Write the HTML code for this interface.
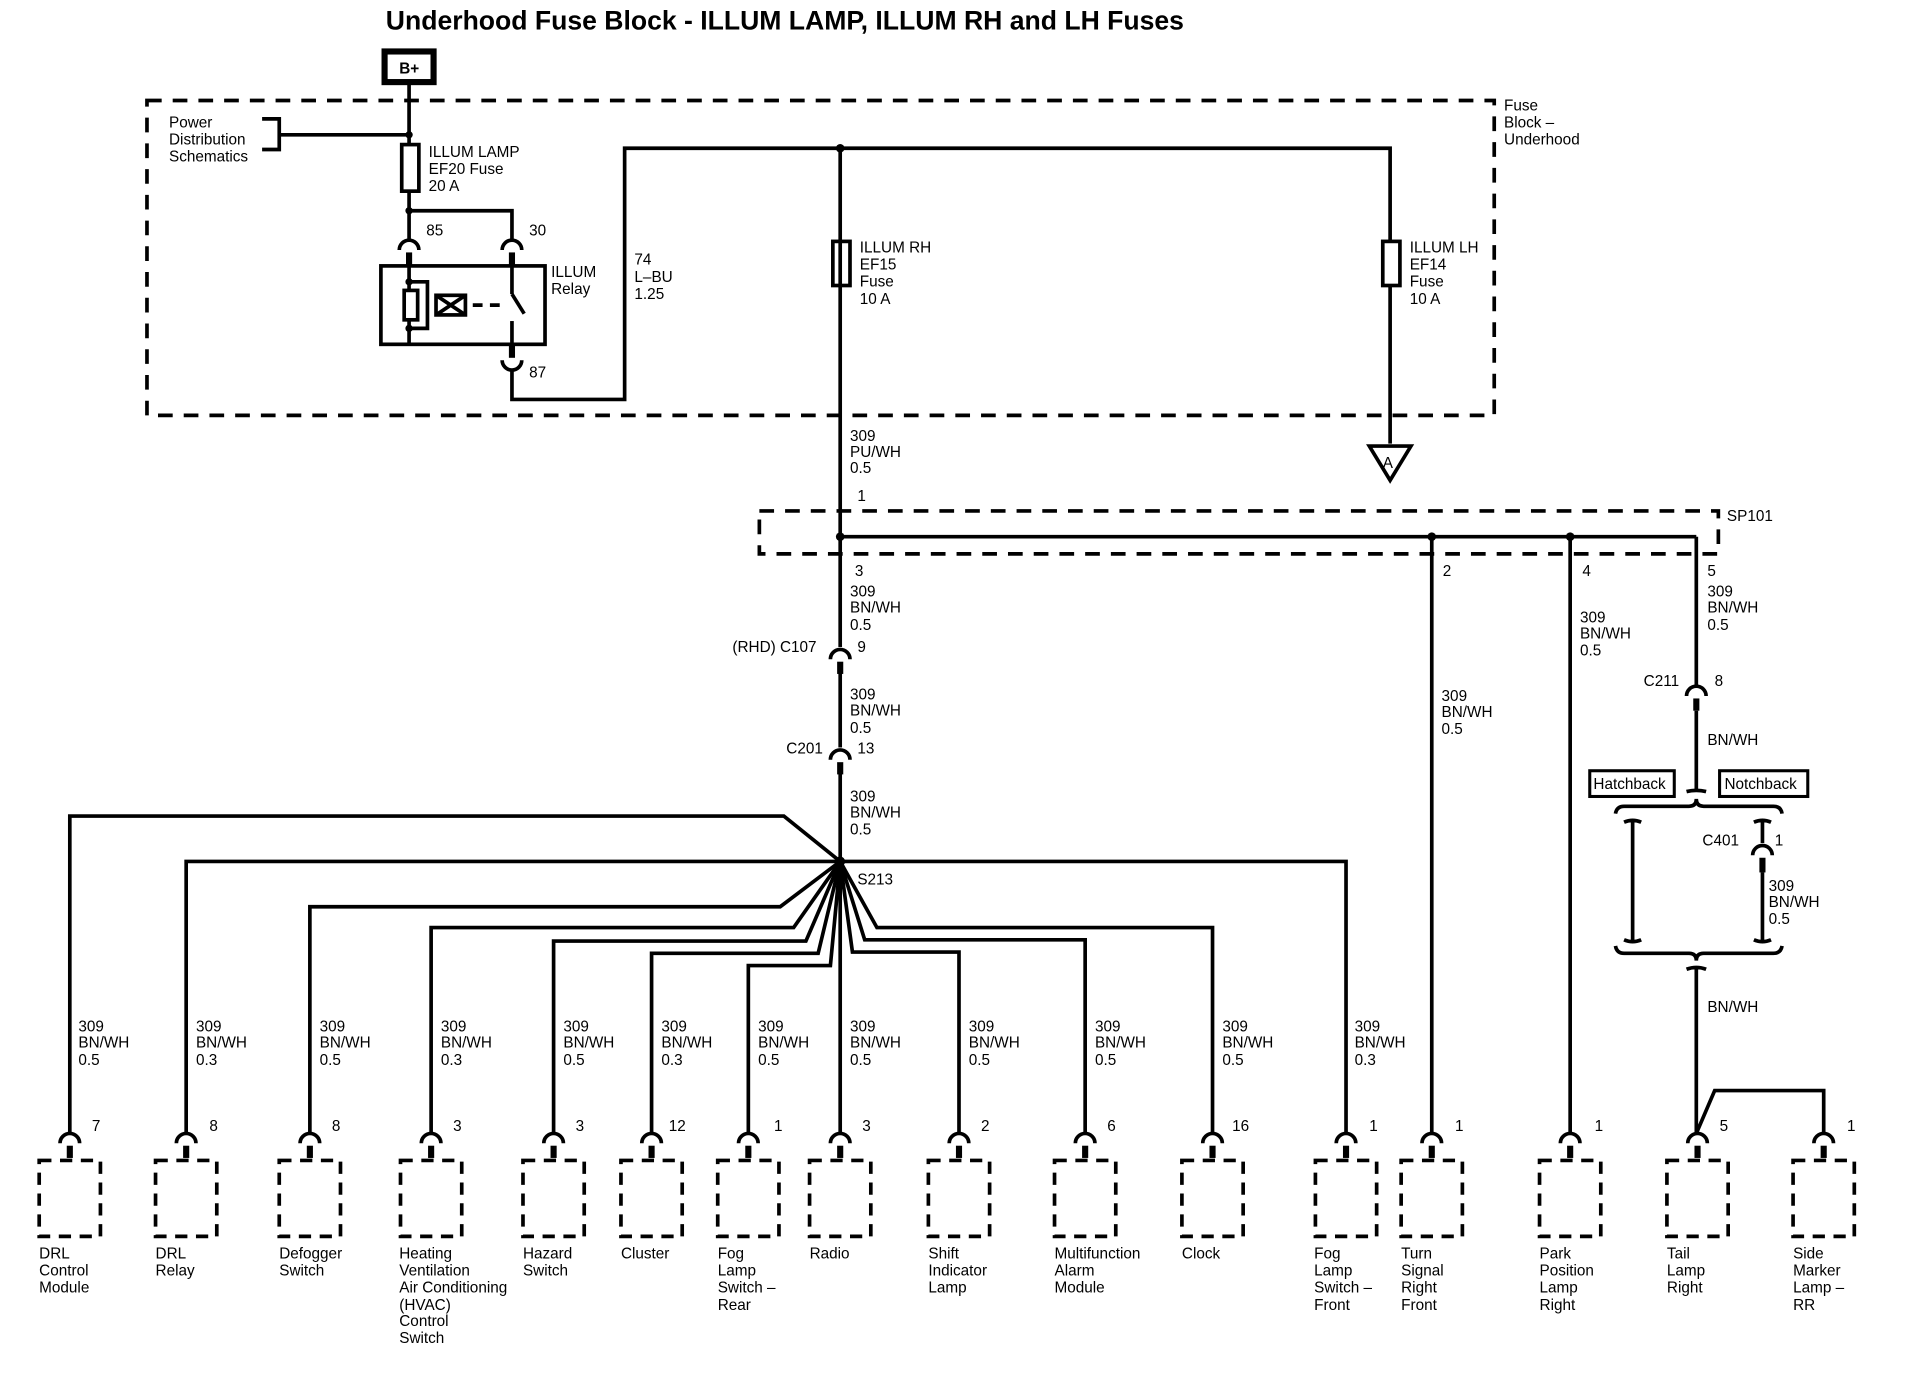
<!DOCTYPE html>
<html><head><meta charset="utf-8"><style>
html,body{margin:0;padding:0;background:#fff;}
svg{display:block}
text{font-family:"Liberation Sans Narrow","Liberation Sans",sans-serif;font-size:12.5px;fill:#000}
.t{font-weight:bold;font-size:21.7px;font-family:"Liberation Sans",sans-serif}
</style></head><body>
<svg width="1918" height="1392" viewBox="0 0 1566 1136" preserveAspectRatio="none" xmlns="http://www.w3.org/2000/svg">
<defs>
<g id="cn"><path d="M-8,8 A8,8 0 0 1 8,8" fill="none" stroke="#000" stroke-width="3"/><line x1="0" y1="10" x2="0" y2="20" stroke="#000" stroke-width="5"/></g>
<g id="cu"><path d="M-8,-8 A8,8 0 0 0 8,-8" fill="none" stroke="#000" stroke-width="3"/><line x1="0" y1="-10" x2="0" y2="-20" stroke="#000" stroke-width="5"/></g>
<rect id="db" x="-25" y="0" width="50" height="62" fill="none" stroke="#000" stroke-width="3" stroke-dasharray="10,7"/>
</defs>
<g stroke="#000" stroke-width="3" fill="none">
<text class="t" x="315" y="24" stroke="none">Underhood Fuse Block - ILLUM LAMP, ILLUM RH and LH Fuses</text>
<rect x="314" y="42" width="40" height="25" stroke-width="5"/>
<rect x="120" y="82" width="1100" height="257" stroke-dasharray="12,9"/>
<line x1="334" y1="68" x2="334" y2="118"/>
<line x1="334" y1="110" x2="228" y2="110"/>
<polyline points="214,97 228,97 228,122 214,122"/>
<rect x="328" y="118" width="14" height="38"/>
<line x1="334" y1="156" x2="334" y2="196"/>
<polyline points="334,172 418,172 418,196"/>
<use href="#cn" x="334" y="196"/><use href="#cn" x="418" y="196"/>
<rect x="311" y="217" width="134" height="64"/>
<line x1="334" y1="216" x2="334" y2="281"/>
<polyline points="334,230 349,230 349,268 334,268"/>
<rect x="330" y="237" width="11" height="24" fill="#fff"/>
<rect x="356" y="241" width="24" height="16" fill="#fff"/>
<path d="M356,241 L380,257 M380,241 L356,257"/>
<line x1="386" y1="249" x2="412" y2="249" stroke-dasharray="8,6"/>
<line x1="418" y1="216" x2="418" y2="240"/><line x1="418" y1="240" x2="428" y2="256"/><line x1="418" y1="262" x2="418" y2="281"/>
<use href="#cu" x="418" y="302"/>
<polyline points="418,302 418,326 510,326 510,121 1135,121 1135,362"/>
<path d="M1118,364 L1152,364 L1135,392 Z" fill="#fff"/>
<rect x="680" y="197" width="14" height="36" fill="#fff"/>
<rect x="1129" y="197" width="14" height="36" fill="#fff"/>
<line x1="686" y1="121" x2="686" y2="703"/>
<rect x="620" y="417" width="783" height="35" stroke-dasharray="12,9"/>
<line x1="686" y1="438" x2="1385" y2="438"/>
<line x1="1169" y1="438" x2="1169" y2="925"/>
<line x1="1282" y1="438" x2="1282" y2="925"/>
<line x1="1385" y1="438" x2="1385" y2="560"/>
<rect x="676" y="528" width="20" height="20" fill="#fff" stroke="none"/>
<use href="#cn" x="686" y="530"/>
<rect x="676" y="610" width="20" height="20" fill="#fff" stroke="none"/>
<use href="#cn" x="686" y="612"/>
<use href="#cn" x="1385" y="560"/>
<line x1="1385" y1="580" x2="1385" y2="646"/>
<path d="M1377,646 Q1385,644 1393,646"/>
<path d="M1319,664 Q1320,658 1326,658 L1379,658 Q1385,658 1385,652 Q1385,658 1391,658 L1448,658 Q1454,658 1455,664"/>
<path d="M1326,671 Q1333,668 1340,671 M1333,670 L1333,768 M1326,767 Q1333,770 1340,767"/>
<path d="M1432,671 Q1439,668 1446,671 M1439,670 L1439,688"/>
<path d="M1431,698 A8,8 0 0 1 1447,698"/>
<line x1="1439" y1="700" x2="1439" y2="712" stroke-width="5"/>
<path d="M1439,712 L1439,768 M1432,767 Q1439,770 1446,767"/>
<path d="M1319,772 Q1320,778 1326,778 L1379,778 Q1385,778 1385,784 Q1385,778 1391,778 L1448,778 Q1454,778 1455,772"/>
<path d="M1377,791 Q1385,788 1393,791 M1385,790 L1385,925 M1385,925 L1400,890 L1489,890 L1489,925"/>
<rect x="1298" y="629" width="69" height="21" fill="#fff" stroke-width="2.5"/>
<rect x="1404" y="629" width="72" height="21" fill="#fff" stroke-width="2.5"/>
<polyline points="57,925 57,666 640,666 686,703"/>
<polyline points="152,925 152,703 1099,703 1099,925"/>
<polyline points="253,925 253,740 637,740 686,703"/>
<polyline points="352,925 352,757 648,757 686,703"/>
<polyline points="452,925 452,768 658,768 686,703"/>
<polyline points="532,925 532,778 668,778 686,703"/>
<polyline points="611,925 611,788 678,788 686,703"/>
<line x1="686" y1="703" x2="686" y2="925"/>
<polyline points="783,925 783,777 696,777 686,703"/>
<polyline points="886,925 886,767 706,767 686,703"/>
<polyline points="990,925 990,757 716,757 686,703"/>
</g>
<g fill="#000">
<circle cx="334" cy="110" r="3"/><circle cx="334" cy="172" r="3"/><circle cx="334" cy="230" r="3"/><circle cx="334" cy="268" r="3"/>
<circle cx="686" cy="121" r="3.5"/><circle cx="686" cy="438" r="3.5"/><circle cx="1169" cy="438" r="3.5"/><circle cx="1282" cy="438" r="3.5"/><circle cx="686" cy="703" r="4"/>
</g>
<g>
<use href="#cn" x="57" y="925"/><use href="#cn" x="152" y="925"/><use href="#cn" x="253" y="925"/><use href="#cn" x="352" y="925"/><use href="#cn" x="452" y="925"/><use href="#cn" x="532" y="925"/><use href="#cn" x="611" y="925"/><use href="#cn" x="686" y="925"/><use href="#cn" x="783" y="925"/><use href="#cn" x="886" y="925"/><use href="#cn" x="990" y="925"/><use href="#cn" x="1099" y="925"/><use href="#cn" x="1169" y="925"/><use href="#cn" x="1282" y="925"/><use href="#cn" x="1386" y="925"/><use href="#cn" x="1489" y="925"/>
<use href="#db" x="57" y="947"/><use href="#db" x="152" y="947"/><use href="#db" x="253" y="947"/><use href="#db" x="352" y="947"/><use href="#db" x="452" y="947"/><use href="#db" x="532" y="947"/><use href="#db" x="611" y="947"/><use href="#db" x="686" y="947"/><use href="#db" x="783" y="947"/><use href="#db" x="886" y="947"/><use href="#db" x="990" y="947"/><use href="#db" x="1099" y="947"/><use href="#db" x="1169" y="947"/><use href="#db" x="1282" y="947"/><use href="#db" x="1386" y="947"/><use href="#db" x="1489" y="947"/>
</g>
<g>
<text x="326" y="60" font-weight="bold">B+</text>
<text x="138" y="104">Power</text><text x="138" y="118">Distribution</text><text x="138" y="132">Schematics</text>
<text x="350" y="128">ILLUM LAMP</text><text x="350" y="142">EF20 Fuse</text><text x="350" y="156">20 A</text>
<text x="348" y="192">85</text><text x="432" y="192">30</text><text x="432" y="308">87</text>
<text x="450" y="226">ILLUM</text><text x="450" y="240">Relay</text>
<text x="518" y="216">74</text><text x="518" y="230">L–BU</text><text x="518" y="244">1.25</text>
<text x="702" y="206">ILLUM RH</text><text x="702" y="220">EF15</text><text x="702" y="234">Fuse</text><text x="702" y="248">10 A</text>
<text x="1151" y="206">ILLUM LH</text><text x="1151" y="220">EF14</text><text x="1151" y="234">Fuse</text><text x="1151" y="248">10 A</text>
<text x="1228" y="90">Fuse</text><text x="1228" y="104">Block –</text><text x="1228" y="118">Underhood</text>
<text x="1129" y="382">A</text>
<text x="694" y="360">309</text><text x="694" y="373">PU/WH</text><text x="694" y="386">0.5</text>
<text x="700" y="409">1</text><text x="1410" y="425">SP101</text>
<text x="698" y="470">3</text><text x="1178" y="470">2</text><text x="1292" y="470">4</text><text x="1394" y="470">5</text>
<text x="694" y="487">309</text><text x="694" y="500">BN/WH</text><text x="694" y="514">0.5</text>
<text x="598" y="532">(RHD) C107</text><text x="700" y="532">9</text>
<text x="694" y="571">309</text><text x="694" y="584">BN/WH</text><text x="694" y="598">0.5</text>
<text x="642" y="615">C201</text><text x="700" y="615">13</text>
<text x="694" y="654">309</text><text x="694" y="667">BN/WH</text><text x="694" y="681">0.5</text>
<text x="700" y="722">S213</text>
<text x="1290" y="508">309</text><text x="1290" y="521">BN/WH</text><text x="1290" y="535">0.5</text>
<text x="1177" y="572">309</text><text x="1177" y="585">BN/WH</text><text x="1177" y="599">0.5</text>
<text x="1394" y="487">309</text><text x="1394" y="500">BN/WH</text><text x="1394" y="514">0.5</text>
<text x="1342" y="560">C211</text><text x="1400" y="560">8</text>
<text x="1394" y="608">BN/WH</text>
<text x="1301" y="644">Hatchback</text><text x="1408" y="644">Notchback</text>
<text x="1390" y="690">C401</text><text x="1449" y="690">1</text>
<text x="1444" y="727">309</text><text x="1444" y="740">BN/WH</text><text x="1444" y="754">0.5</text>
<text x="1394" y="826">BN/WH</text>
<text x="64" y="842">309</text><text x="64" y="855">BN/WH</text><text x="64" y="869">0.5</text>
<text x="160" y="842">309</text><text x="160" y="855">BN/WH</text><text x="160" y="869">0.3</text>
<text x="261" y="842">309</text><text x="261" y="855">BN/WH</text><text x="261" y="869">0.5</text>
<text x="360" y="842">309</text><text x="360" y="855">BN/WH</text><text x="360" y="869">0.3</text>
<text x="460" y="842">309</text><text x="460" y="855">BN/WH</text><text x="460" y="869">0.5</text>
<text x="540" y="842">309</text><text x="540" y="855">BN/WH</text><text x="540" y="869">0.3</text>
<text x="619" y="842">309</text><text x="619" y="855">BN/WH</text><text x="619" y="869">0.5</text>
<text x="694" y="842">309</text><text x="694" y="855">BN/WH</text><text x="694" y="869">0.5</text>
<text x="791" y="842">309</text><text x="791" y="855">BN/WH</text><text x="791" y="869">0.5</text>
<text x="894" y="842">309</text><text x="894" y="855">BN/WH</text><text x="894" y="869">0.5</text>
<text x="998" y="842">309</text><text x="998" y="855">BN/WH</text><text x="998" y="869">0.5</text>
<text x="1106" y="842">309</text><text x="1106" y="855">BN/WH</text><text x="1106" y="869">0.3</text>
<text x="75" y="923">7</text><text x="171" y="923">8</text><text x="271" y="923">8</text><text x="370" y="923">3</text><text x="470" y="923">3</text><text x="546" y="923">12</text><text x="632" y="923">1</text><text x="704" y="923">3</text><text x="801" y="923">2</text><text x="904" y="923">6</text><text x="1006" y="923">16</text><text x="1118" y="923">1</text><text x="1188" y="923">1</text><text x="1302" y="923">1</text><text x="1404" y="923">5</text><text x="1508" y="923">1</text>
<text x="32" y="1027">DRL</text><text x="32" y="1041">Control</text><text x="32" y="1055">Module</text>
<text x="127" y="1027">DRL</text><text x="127" y="1041">Relay</text>
<text x="228" y="1027">Defogger</text><text x="228" y="1041">Switch</text>
<text x="326" y="1027">Heating</text><text x="326" y="1041">Ventilation</text><text x="326" y="1055">Air Conditioning</text><text x="326" y="1069">(HVAC)</text><text x="326" y="1082">Control</text><text x="326" y="1096">Switch</text>
<text x="427" y="1027">Hazard</text><text x="427" y="1041">Switch</text>
<text x="507" y="1027">Cluster</text>
<text x="586" y="1027">Fog</text><text x="586" y="1041">Lamp</text><text x="586" y="1055">Switch –</text><text x="586" y="1069">Rear</text>
<text x="661" y="1027">Radio</text>
<text x="758" y="1027">Shift</text><text x="758" y="1041">Indicator</text><text x="758" y="1055">Lamp</text>
<text x="861" y="1027">Multifunction</text><text x="861" y="1041">Alarm</text><text x="861" y="1055">Module</text>
<text x="965" y="1027">Clock</text>
<text x="1073" y="1027">Fog</text><text x="1073" y="1041">Lamp</text><text x="1073" y="1055">Switch –</text><text x="1073" y="1069">Front</text>
<text x="1144" y="1027">Turn</text><text x="1144" y="1041">Signal</text><text x="1144" y="1055">Right</text><text x="1144" y="1069">Front</text>
<text x="1257" y="1027">Park</text><text x="1257" y="1041">Position</text><text x="1257" y="1055">Lamp</text><text x="1257" y="1069">Right</text>
<text x="1361" y="1027">Tail</text><text x="1361" y="1041">Lamp</text><text x="1361" y="1055">Right</text>
<text x="1464" y="1027">Side</text><text x="1464" y="1041">Marker</text><text x="1464" y="1055">Lamp –</text><text x="1464" y="1069">RR</text>
</g>
</svg>
</body></html>
